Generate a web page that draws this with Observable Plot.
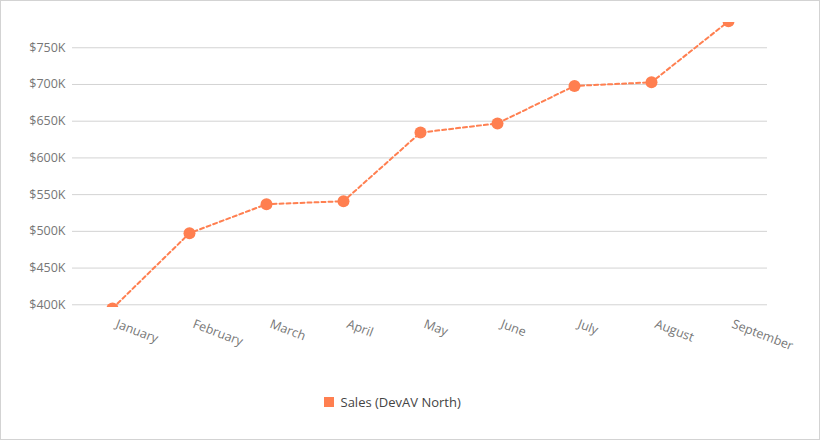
<!DOCTYPE html>
<html>
<head>
<meta charset="utf-8">
<script src="https://cdn.jsdelivr.net/npm/d3@7"></script>
<script src="https://cdn.jsdelivr.net/npm/@observablehq/plot@0.6"></script>
<style>
  html, body { margin: 0; padding: 0; background: #fff; }
  #wrap { position: relative; width: 820px; height: 440px; overflow: hidden; font-family: "Segoe UI", "Open Sans", sans-serif; }
  #border { position: absolute; left: 0; top: 0; width: 820px; height: 440px; box-sizing: border-box; border: 1px solid #d3d3d3; pointer-events: none; }
  #chart { position: absolute; left: 0; top: 0; }
  #legend { position: absolute; left: 324px; top: 385px; }
</style>
</head>
<body>
<div id="wrap">
  <div id="chart"></div>
  <div id="legend"></div>
  <div id="border"></div>
</div>
<script>
const months = ["January", "February", "March", "April", "May", "June", "July", "August", "September"];
const sales = [395000, 497500, 537000, 541000, 634500, 647000, 698000, 703000, 786000];
const yTicks = [400000, 450000, 500000, 550000, 600000, 650000, 700000, 750000];
const seriesName = "Sales (DevAV North)";
const seriesColor = "#ff7f50";

const data = months.map((m, i) => ({month: m, sales: sales[i]}));

const chart = Plot.plot({
  width: 820,
  height: 370,
  marginLeft: 72,
  marginRight: 53,
  marginTop: 22,
  marginBottom: 63,
  style: {fontFamily: "'Segoe UI', 'Open Sans', sans-serif", fontSize: "12.5px", color: "#767676", background: "transparent"},
  x: {type: "point", domain: months, padding: 0.5},
  y: {domain: [396300, 784400]},
  marks: [
    Plot.gridY({ticks: yTicks, stroke: "#d3d3d3", strokeOpacity: 1}),
    Plot.axisY({ticks: yTicks, tickFormat: d => `$${d / 1000}K`, tickSize: 0, tickPadding: 7, label: null, fontSize: 12.5}),
    Plot.axisX({tickSize: 0, tickPadding: 16, dx: 4, tickRotate: 21, label: null, fontSize: 12.5}),
    Plot.line(data, {x: "month", y: "sales", stroke: seriesColor, strokeWidth: 2, strokeDasharray: "4,3", clip: true}),
    Plot.dot(data, {x: "month", y: "sales", r: 6, fill: seriesColor, clip: true})
  ]
});
document.getElementById("chart").appendChild(chart);

const legend = Plot.legend({
  color: {type: "ordinal", domain: [seriesName], range: [seriesColor]},
  legend: "swatches",
  swatchSize: 10,
  style: {fontFamily: "'Segoe UI', 'Open Sans', sans-serif", fontSize: "13px", color: "#444"}
});
document.getElementById("legend").appendChild(legend);
</script>
</body>
</html>
